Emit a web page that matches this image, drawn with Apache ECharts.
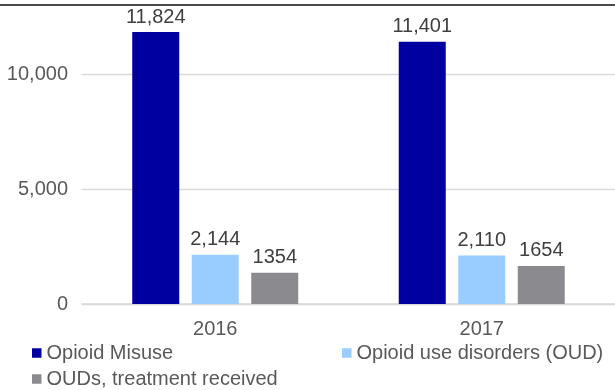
<!DOCTYPE html>
<html>
<head>
<meta charset="utf-8">
<script src="https://cdn.jsdelivr.net/npm/echarts@6/dist/echarts.min.js"></script>
<style>html,body{margin:0;padding:0;background:#fff}#c{width:615px;height:390px}</style>
</head>
<body>
<div id="c"></div>
<script>
var categories = ['2016', '2017'];
var seriesNames = ['Opioid Misuse', 'Opioid use disorders (OUD)', 'OUDs, treatment received'];
var misuse = [11824, 11401];
var oud = [2144, 2110];
var treated = [1354, 1654];
var yTicks = [0, 5000, 10000];

var colors = ['#0000A0', '#99CCFF', '#8B8B8F'];
var font = 'Liberation Sans, Arial, sans-serif';
function comma(v) { return String(v).replace(/\B(?=(\d{3})+(?!\d))/g, ','); }

var chart = echarts.init(document.getElementById('c'));
function mkSeries(name, data, idx, fmt) {
  return {
    name: name, type: 'bar', data: data, barWidth: 47, barGap: '26.6%',
    clip: false,
    itemStyle: { color: colors[idx] },
    label: { show: true, position: 'top', distance: 5, fontSize: 20, fontFamily: font, color: '#404040',
      formatter: function (p) { return fmt ? comma(p.value) : String(p.value); } }
  };
}
function legend(name, left, top) {
  return { data: [name], left: left, top: top, padding: 0, icon: 'rect', itemWidth: 9.5, itemHeight: 9.5,
    selectedMode: false, textStyle: { fontSize: 20, fontFamily: font, color: '#595959' } };
}
chart.setOption({
  animation: false,
  grid: { left: 82, right: -4, top: 74, bottom: 86 },
  xAxis: { type: 'category', data: categories,
    axisLine: { lineStyle: { color: '#D9D9D9', width: 1.5 } }, axisTick: { show: false },
    axisLabel: { fontSize: 20, fontFamily: font, color: '#595959', margin: 15 } },
  yAxis: { type: 'value', min: yTicks[0], max: yTicks[yTicks.length - 1], interval: yTicks[1] - yTicks[0],
    axisLine: { show: false }, axisTick: { show: false },
    splitLine: { lineStyle: { color: '#D9D9D9', width: 1.3 } },
    axisLabel: { fontSize: 20, fontFamily: font, color: '#595959', margin: 14, formatter: function (v) { return comma(v); } } },
  legend: [legend(seriesNames[0], 32, 343), legend(seriesNames[1], 342, 343), legend(seriesNames[2], 32, 369)],
  series: [mkSeries(seriesNames[0], misuse, 0, true), mkSeries(seriesNames[1], oud, 1, true), mkSeries(seriesNames[2], treated, 2, false)],
  graphic: [{ type: 'line', shape: { x1: 0, y1: 5, x2: 615, y2: 5 }, style: { stroke: '#111', lineWidth: 1.5 } }]
});
</script>
</body>
</html>
